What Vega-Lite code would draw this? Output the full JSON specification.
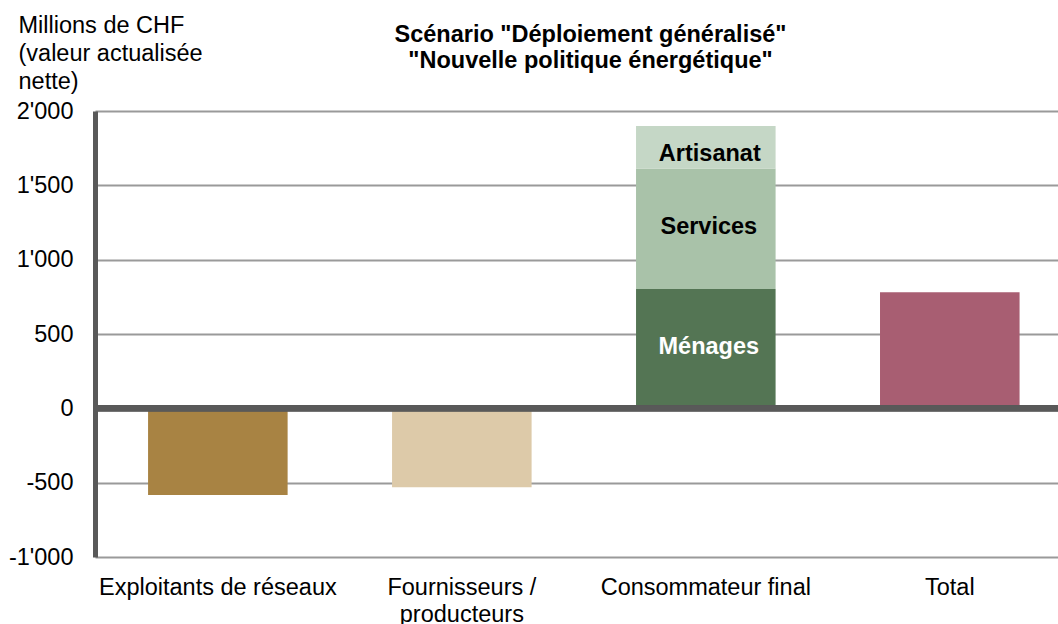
{
  "$schema": "https://vega.github.io/schema/vega-lite/v6.json",
  "autosize": "none",
  "width": 963,
  "height": 446,
  "padding": {"left": 95, "top": 111, "right": 0, "bottom": 67},
  "background": "white",
  "config": {
    "font": "Liberation Sans",
    "view": {"stroke": null}
  },
  "title": {
    "text": ["Scénario \"Déploiement généralisé\"", "\"Nouvelle politique énergétique\""],
    "fontSize": 23.5,
    "fontWeight": "bold",
    "lineHeight": 26,
    "anchor": "middle",
    "dx": 14,
    "offset": 0,
    "dy": 59,
    "color": "#000000"
  },
  "data": {
    "values": [
      {"categorie": "Exploitants de réseaux", "partie": "Exploitants de réseaux", "rang": 1, "valeur": -583},
      {"categorie": "Fournisseurs / producteurs", "partie": "Fournisseurs / producteurs", "rang": 1, "valeur": -530},
      {"categorie": "Consommateur final", "partie": "Ménages", "rang": 1, "valeur": 802},
      {"categorie": "Consommateur final", "partie": "Services", "rang": 2, "valeur": 812},
      {"categorie": "Consommateur final", "partie": "Artisanat", "rang": 3, "valeur": 285},
      {"categorie": "Total", "partie": "Total", "rang": 1, "valeur": 780}
    ]
  },
  "transform": [
    {"stack": "valeur", "groupby": ["categorie"], "sort": [{"field": "rang", "order": "ascending"}], "as": ["v0", "v1"]},
    {"calculate": "(datum.v0 + datum.v1) / 2", "as": "milieu"}
  ],
  "encoding": {
    "x": {
      "field": "categorie",
      "type": "nominal",
      "sort": ["Exploitants de réseaux", "Fournisseurs / producteurs", "Consommateur final", "Total"],
      "scale": {"paddingInner": 0.428, "paddingOuter": 0.1875, "align": 0.58},
      "axis": {
        "title": null,
        "domain": false,
        "ticks": false,
        "labelAngle": 0,
        "labelFontSize": 23.5,
        "labelColor": "#000000",
        "labelPadding": 18,
        "labelLimit": 0,
        "labelLineHeight": 27,
        "labelExpr": "datum.value == 'Fournisseurs / producteurs' ? ['Fournisseurs /', 'producteurs'] : datum.value"
      }
    }
  },
  "layer": [
    {
      "mark": {"type": "bar"},
      "encoding": {
        "y": {
          "field": "v0",
          "type": "quantitative",
          "scale": {"domain": [-1000, 2000], "nice": false, "zero": false},
          "axis": {
            "values": [-1000, -500, 0, 500, 1000, 1500, 2000],
            "labelExpr": "(datum.value < 0 ? '-' : '') + replace(format(abs(datum.value), ','), ',', \"'\")",
            "labelFontSize": 23.5,
            "labelColor": "#000000",
            "labelPadding": 22,
            "labelLimit": 0,
            "ticks": false,
            "domainColor": "#595959",
            "domainWidth": 5,
            "grid": true,
            "gridColor": "#9a9a9a",
            "gridWidth": 2,
            "title": ["Millions de CHF", "(valeur actualisée", "nette)"],
            "titleAngle": 0,
            "titleAlign": "left",
            "titleBaseline": "alphabetic",
            "titleX": -77,
            "titleY": -79,
            "titleFontSize": 23.5,
            "titleFontWeight": "normal",
            "titleColor": "#000000",
            "titleLineHeight": 28
          }
        },
        "y2": {"field": "v1"},
        "color": {
          "field": "partie",
          "type": "nominal",
          "scale": {
            "domain": ["Exploitants de réseaux", "Fournisseurs / producteurs", "Ménages", "Services", "Artisanat", "Total"],
            "range": ["#A88343", "#DDCAA9", "#547554", "#A9C2A9", "#C5D7C6", "#A85E72"]
          },
          "legend": null
        }
      }
    },
    {
      "transform": [{"filter": "datum.categorie == 'Consommateur final' && datum.partie != 'Artisanat'"}],
      "mark": {"type": "text", "fontSize": 23.5, "fontWeight": "bold", "baseline": "middle", "dx": 3, "dy": -2},
      "encoding": {
        "y": {"field": "milieu", "type": "quantitative"},
        "text": {"field": "partie"},
        "color": {
          "condition": {"test": "datum.partie == 'Ménages'", "value": "#ffffff"},
          "value": "#000000"
        }
      }
    },
    {
      "transform": [{"filter": "datum.partie == 'Artisanat'"}],
      "mark": {"type": "text", "fontSize": 23.5, "fontWeight": "bold", "baseline": "middle", "dx": 4, "dy": 7, "color": "#000000"},
      "encoding": {
        "y": {"field": "milieu", "type": "quantitative"},
        "text": {"field": "partie"}
      }
    },
    {
      "mark": {"type": "rule", "color": "#595959", "strokeWidth": 6},
      "encoding": {
        "x": {"value": 0},
        "x2": {"value": 963},
        "y": {"datum": 0, "type": "quantitative"}
      }
    }
  ]
}
